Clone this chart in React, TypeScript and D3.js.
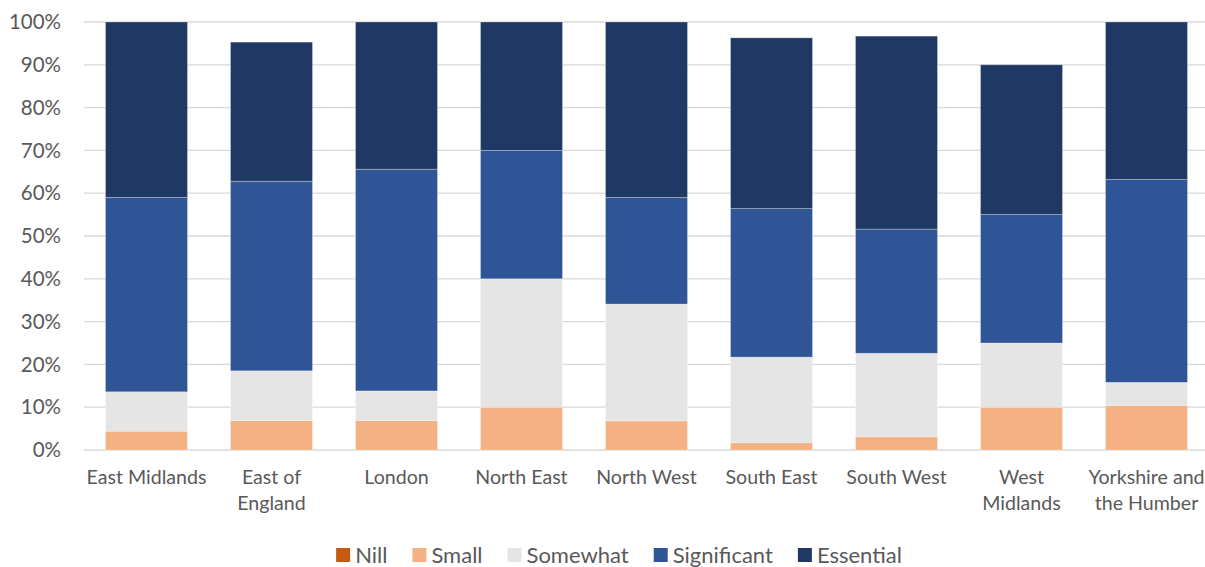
import React, { useEffect, useRef } from "react";
import * as d3 from "d3";

const categories = [
  "East Midlands",
  "East of England",
  "London",
  "North East",
  "North West",
  "South East",
  "South West",
  "West Midlands",
  "Yorkshire and the Humber",
];
const seriesNames = ["Nill", "Small", "Somewhat", "Significant", "Essential"];
const nill = [0, 0, 0, 0, 0, 0, 0, 0, 0];
const small = [4.4, 6.9, 6.9, 10.0, 6.8, 1.7, 3.1, 10.0, 10.4];
const somewhat = [9.2, 11.6, 6.9, 30.0, 27.3, 20.0, 19.5, 15.0, 5.4];
const significant = [45.4, 44.3, 51.8, 30.0, 24.9, 34.7, 29.0, 30.0, 47.4];
const essential = [41.0, 32.5, 34.4, 30.0, 41.0, 39.9, 45.1, 35.0, 36.8];
const yTicks = [0, 10, 20, 30, 40, 50, 60, 70, 80, 90, 100];
const colors = ["#C55A11", "#F4B183", "#E5E5E5", "#2F5597", "#203864"];

const W = 1205;
const H = 567;
const FONT = "Lato, 'Open Sans', sans-serif";

export default function App() {
  const ref = useRef<SVGSVGElement>(null);

  useEffect(() => {
    const svg = d3.select(ref.current);
    svg.selectAll("*").remove();

    const margin = { left: 84, right: -4, top: 22, bottom: 117 };
    const x = d3
      .scaleBand<string>()
      .domain(categories)
      .range([margin.left, W - margin.right])
      .paddingInner(0.344)
      .paddingOuter(0.172);
    const y = d3
      .scaleLinear()
      .domain([0, 100])
      .range([H - margin.bottom, margin.top]);

    const rows = categories.map((c, i) => ({
      cat: c,
      Nill: nill[i],
      Small: small[i],
      Somewhat: somewhat[i],
      Significant: significant[i],
      Essential: essential[i],
    }));
    const stacked = d3.stack<any>().keys(seriesNames)(rows);

    // gridlines
    svg
      .append("g")
      .selectAll("line")
      .data(yTicks)
      .join("line")
      .attr("x1", margin.left)
      .attr("x2", W)
      .attr("y1", (d) => y(d))
      .attr("y2", (d) => y(d))
      .attr("stroke", "#D9D9D9")
      .attr("stroke-width", 1.3);

    // y labels
    svg
      .append("g")
      .selectAll("text")
      .data(yTicks)
      .join("text")
      .attr("x", 61)
      .attr("y", (d) => y(d))
      .attr("dy", "0.35em")
      .attr("text-anchor", "end")
      .attr("font-family", FONT)
      .attr("font-size", 20.5)
      .attr("fill", "#595959")
      .text((d) => `${d}%`);

    // bars
    svg
      .append("g")
      .selectAll("g")
      .data(stacked)
      .join("g")
      .attr("fill", (_, i) => colors[i])
      .selectAll("rect")
      .data((s) => s)
      .join("rect")
      .attr("x", (d: any) => x(d.data.cat)!)
      .attr("width", x.bandwidth())
      .attr("y", (d) => y(d[1]))
      .attr("height", (d) => Math.max(0, y(d[0]) - y(d[1])))
      .attr("stroke", (d) => (d[1] - d[0] > 0 ? "#ffffff" : "none"))
      .attr("stroke-opacity", 0.35)
      .attr("stroke-width", 0.8);

    // category labels with wrapping
    const labelG = svg.append("g");
    const maxW = x.step() - 2;
    categories.forEach((c) => {
      const t = labelG
        .append("text")
        .attr("text-anchor", "middle")
        .attr("font-family", FONT)
        .attr("font-size", 19.6)
        .attr("fill", "#595959");
      const cx = x(c)! + x.bandwidth() / 2;
      const words = c.split(" ");
      const lines: string[] = [];
      let cur = "";
      const probe = t.append("tspan");
      words.forEach((w) => {
        const test = cur ? cur + " " + w : w;
        probe.text(test);
        if ((probe.node() as SVGTextContentElement).getComputedTextLength() > maxW && cur) {
          lines.push(cur);
          cur = w;
        } else cur = test;
      });
      lines.push(cur);
      probe.remove();
      lines.forEach((l, i) => {
        t.append("tspan")
          .attr("x", cx)
          .attr("y", 484 + i * 26)
          .text(l);
      });
    });

    // legend
    const leg = svg.append("g");
    let cxPos = 0;
    const items: any[] = [];
    const gap = 25;
    seriesNames.forEach((n, i) => {
      const g = leg.append("g");
      g.append("rect")
        .attr("x", 0)
        .attr("y", -7)
        .attr("width", 14)
        .attr("height", 14)
        .attr("fill", colors[i]);
      const t = g
        .append("text")
        .attr("x", 19)
        .attr("dy", "0.35em")
        .attr("font-family", FONT)
        .attr("font-size", 22)
        .attr("fill", "#595959")
        .text(n);
      const tw = (t.node() as SVGTextContentElement).getComputedTextLength();
      items.push({ g, x: cxPos });
      cxPos += 19 + tw + gap;
    });
    const total = cxPos - gap;
    const start = 619 - total / 2;
    items.forEach((it) => it.g.attr("transform", `translate(${start + it.x},555)`));
  }, []);

  return (
    <svg
      ref={ref}
      width={W}
      height={H}
      style={{ position: "absolute", left: 0, top: 0, background: "#fff" }}
    />
  );
}
